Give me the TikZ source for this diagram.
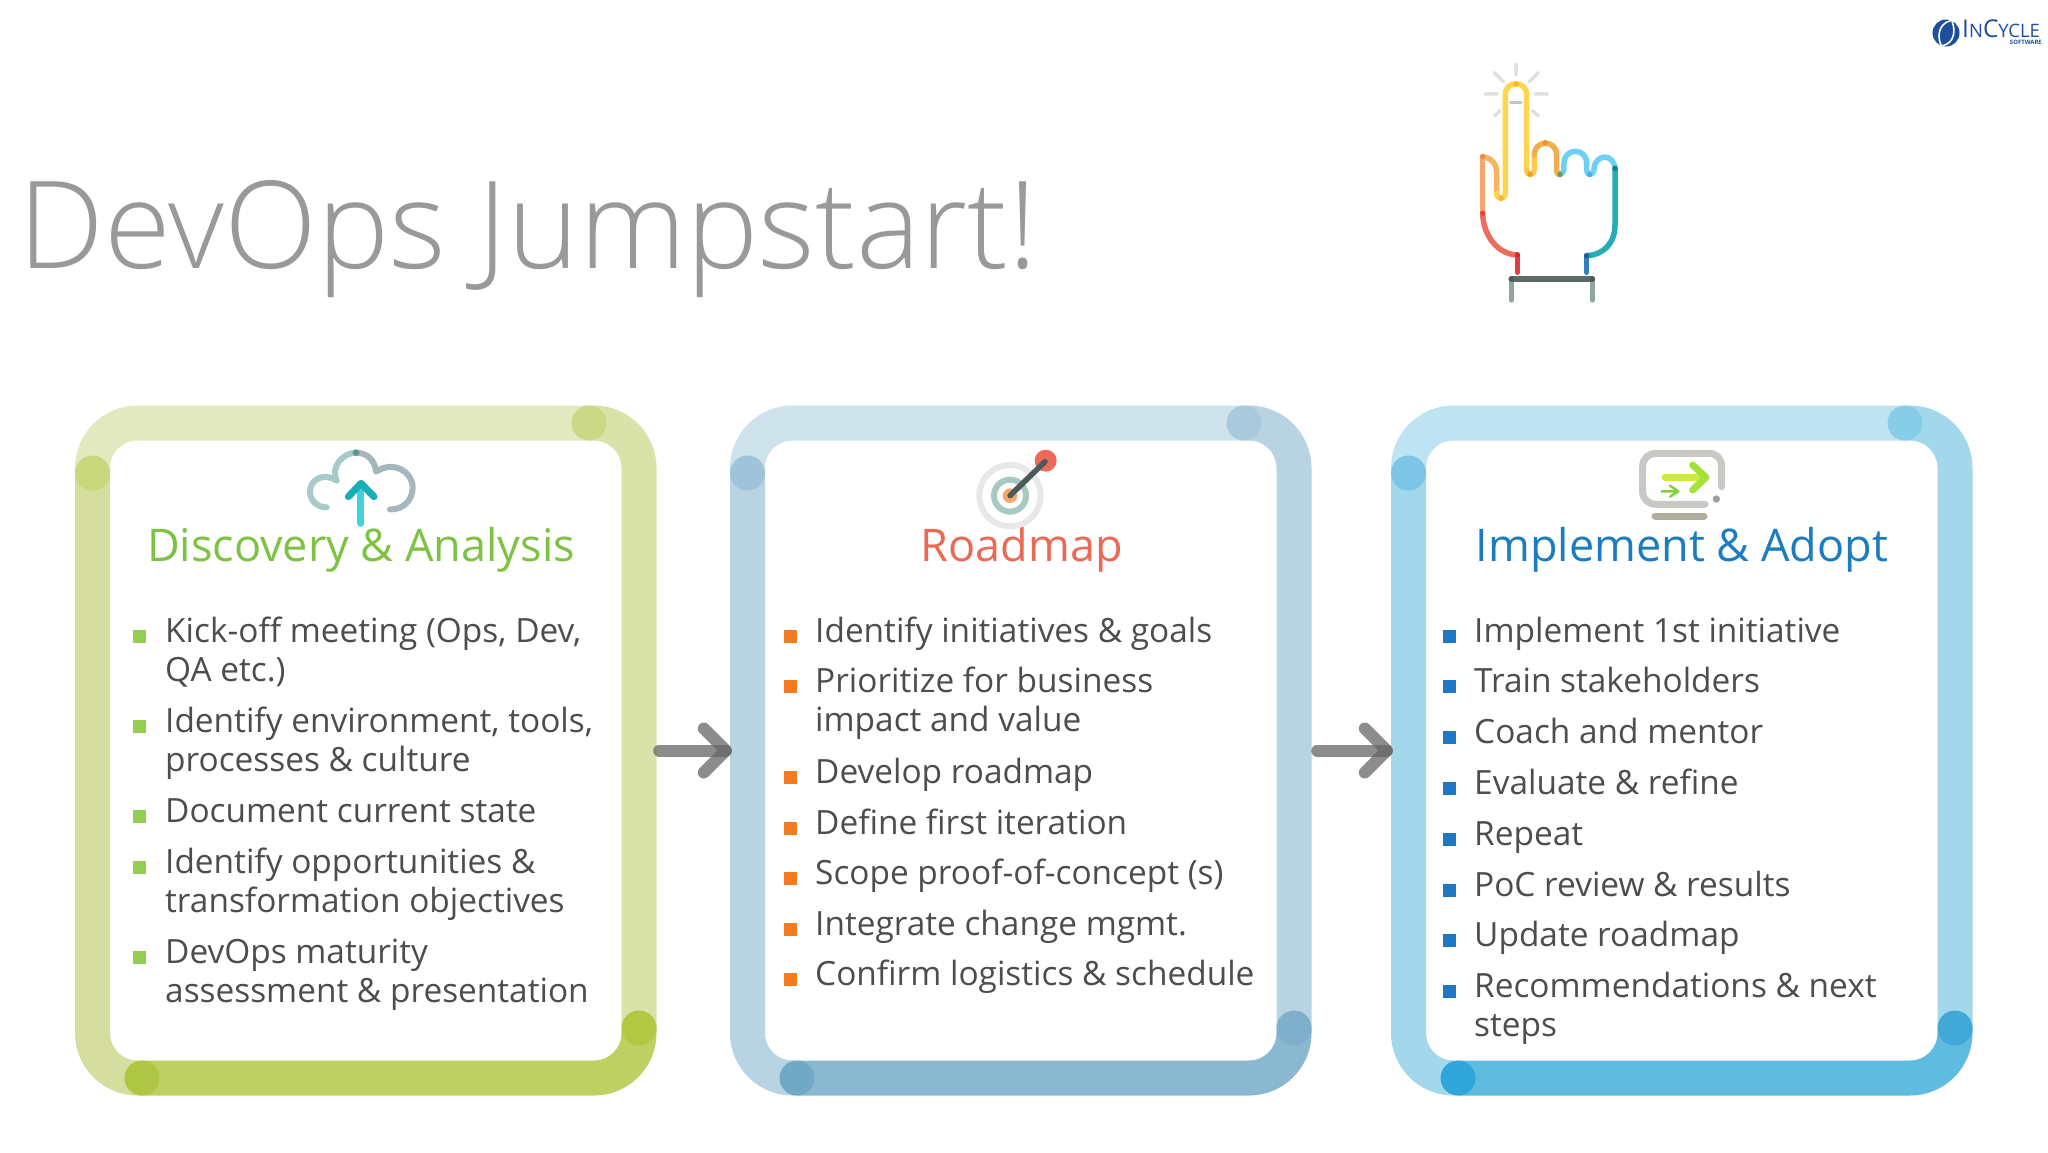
\documentclass[tikz,border=0pt]{standalone}
\usepackage{fontspec}
\setmainfont{Open Sans}
\newfontfamily\titlefont{Open Sans Light}
\newcommand{\dc}[1]{\definecolor{#1}{HTML}{#1}}
\dc{E3E9BE}\dc{D9E2A8}\dc{BFD062}\dc{D5DE9E}\dc{C9D87A}\dc{CBD884}\dc{B2C742}\dc{AFC645}
\dc{CEE2EC}\dc{B8D4E3}\dc{8AB8D0}\dc{9EC3DA}\dc{A9C9DC}\dc{7FB0CB}\dc{70A9C6}
\dc{BEE3F2}\dc{A3D8EC}\dc{5FBBE0}\dc{7CC5E6}\dc{88CDE8}\dc{42A8D8}\dc{2FA5DA}
\dc{7DC242}\dc{EB6A55}\dc{1B7DC0}\dc{92CF50}\dc{F47B20}\dc{1F78C1}
\dc{E0E0E0}\dc{C4C4C4}\dc{F9A66C}\dc{F3B562}\dc{FFD54F}\dc{FDC84A}\dc{F0AE4E}\dc{6CD0F5}\dc{25ADB5}\dc{2F7FC1}\dc{EC6D5B}\dc{DB4045}\dc{8FA7A0}\dc{5B6B68}
\dc{F08A3C}\dc{E2492F}\dc{F9B233}\dc{FBB91E}\dc{F49D1A}\dc{F0921C}\dc{6E9A44}\dc{3FB2EE}\dc{12808A}\dc{D32F2F}\dc{1F5F9E}\dc{4A5A58}
\dc{A6CBC9}\dc{A5B7BC}\dc{5E9793}\dc{3FD3E0}\dc{17AEBA}
\dc{E8E8E8}\dc{A8C8C2}\dc{EE6A58}\dc{4A5A5A}
\dc{C8C8C4}\dc{9E9E9E}\dc{B0AD9F}\dc{CDEB3C}\dc{A8E03A}\dc{80D040}\dc{1D4F9C}\dc{4D4D4F}\dc{999999}\dc{666666}
\tikzset{
 seg/.style={line width=35pt,line cap=butt,line join=round},
 dotm/.style={circle,inner sep=0pt,minimum size=35pt},
 icon/.style={line cap=round,line join=round},
 panel/.style={rectangle,inner sep=0pt,minimum width=581pt,minimum height=691pt},
 head/.style={anchor=base,inner sep=0pt,font=\fontsize{45}{50}\selectfont},
 item/.style={anchor=base west,inner sep=0pt,text=4D4D4F,font=\fontsize{33.4}{39}\selectfont},
 bul/.style={rectangle,inner sep=0pt,minimum size=13pt},
 link/.style={draw=666666,opacity=.75,line width=12pt,line cap=round,line join=round},
}
\newcommand{\tl}[1]{\begin{tabular}[t]{@{}l@{}}#1\end{tabular}}
\newcommand{\panelring}[6]{%
 \def\xl{#1}\def\xr{#2}%
 \pgfmathsetmacro\xa{\xl+50}\pgfmathsetmacro\xb{\xr-50}%
 \draw[seg,#5] (\xr,1028) -- (\xr,1033) arc (0:90:45) -- (\xa,1078);
 \draw[seg,#6] (\xa,1078) -- (\xl+45,1078) arc (90:180:45) -- (\xl,473);
 \draw[seg,#3] (\xl,473) -- (\xl,468) arc (180:270:45) -- (\xb,423);
 \draw[seg,#4] (\xb,423) -- (\xr-45,423) arc (270:360:45) -- (\xr,1028);
}
\begin{document}
\begin{tikzpicture}[x=1pt,y=-1pt]
\useasboundingbox (0,0) rectangle (2048,1152);
\fill[white] (0,0) rectangle (2048,1152);

% panels
\node[panel] (p1) at (365.5,750.5) {};
\node[panel] (p2) at (1020.5,750.5) {};
\node[panel] (p3) at (1681.5,750.5) {};

% ring 1
\panelring{92.5}{639}{E3E9BE}{D9E2A8}{BFD062}{D5DE9E}
\node[dotm,fill=C9D87A] (d1a) at (92.5,473) {};
\node[dotm,fill=CBD884] (d1b) at (589,423) {};
\node[dotm,fill=B2C742] (d1c) at (639,1028) {};
\node[dotm,fill=AFC645] (d1d) at (142,1078) {};
% ring 2
\panelring{747.5}{1294}{CEE2EC}{B8D4E3}{8AB8D0}{B8D4E3}
\node[dotm,fill=9EC3DA] (d2a) at (747.5,473) {};
\node[dotm,fill=A9C9DC] (d2b) at (1244,423) {};
\node[dotm,fill=7FB0CB] (d2c) at (1294,1028) {};
\node[dotm,fill=70A9C6] (d2d) at (797,1078) {};
% ring 3
\panelring{1408.5}{1955}{BEE3F2}{A3D8EC}{5FBBE0}{A3D8EC}
\node[dotm,fill=7CC5E6] (d3a) at (1408.5,473) {};
\node[dotm,fill=88CDE8] (d3b) at (1905,423) {};
\node[dotm,fill=42A8D8] (d3c) at (1955,1028) {};
\node[dotm,fill=2FA5DA] (d3d) at (1458,1078) {};

% arrows between panels
\draw[link,shorten <=3pt,shorten >=4pt] (p1.east) -- (p2.west);
\draw[link] (p2.west) ++(-26,-22) -- ++(22,22) -- ++(-22,22);
\draw[link,shorten <=6pt,shorten >=4pt] (p2.east) -- (p3.west);
\draw[link] (p3.west) ++(-26,-22) -- ++(22,22) -- ++(-22,22);

% title
\node[anchor=base west,inner sep=0pt,text=999999] (title) at (18.5,268) {\titlefont\fontsize{121.5}{130}\selectfont DevOps Jumpstart!};

% headings
\node[head,text=7DC242] (h1) at (361,561) {Discovery \& Analysis};
\node[head,text=EB6A55] (h2) at (1022,561) {Roadmap};
\node[head,text=1B7DC0] (h3) at (1682,561) {Implement \& Adopt};

% column 1
\foreach \n/\y/\t in {1/642/{Kick-off meeting (Ops, Dev,\\QA etc.)},2/732/{Identify environment, tools,\\processes \& culture},3/822/{Document current state},4/873/{Identify opportunities \&\\transformation objectives},5/963/{DevOps maturity\\assessment \& presentation}}{
 \node[bul,fill=92CF50] (ba\n) at (139.5,\y-6) {};
 \node[item] (ta\n) at (165,\y) {\tl{\t}};
}
% column 2
\foreach \n/\y/\t in {1/642/{Identify initiatives \& goals},2/692.5/{Prioritize for business\\impact and value},3/783/{Develop roadmap},4/834/{Define first iteration},5/884/{Scope proof-of-concept (s)},6/935/{Integrate change mgmt.},7/985.5/{Confirm logistics \& schedule}}{
 \node[bul,fill=F47B20] (bb\n) at (790,\y-6) {};
 \node[item] (tb\n) at (815,\y) {\tl{\t}};
}
% column 3
\foreach \n/\y/\t in {1/642/{Implement 1st initiative},2/692.8/{Train stakeholders},3/743.6/{Coach and mentor},4/794.4/{Evaluate \& refine},5/845/{Repeat},6/896/{PoC review \& results},7/946.8/{Update roadmap},8/997.6/{Recommendations \& next\\steps}}{
 \node[bul,fill=1F78C1] (bc\n) at (1449.5,\y-6) {};
 \node[item] (tc\n) at (1474,\y) {\tl{\t}};
}

% hand icon
\begin{scope}[shift={(1440,40)},x=.3333pt,y=-.3333pt,icon,line width=5.5pt]
 \draw[E0E0E0,line width=3.5pt] (228,72)--(228,105) (163,98)--(190,125) (295,98)--(268,125) (136,162)--(172,162) (285,162)--(322,162) (180,212)--(163,228) (277,212)--(295,228);
 \draw[C4C4C4,line width=3.5pt] (212,188)--(243,188);
 \draw[F9A66C] (128,520)--(128,350);
 \draw[F3B562] (128,350) .. controls (155,355) and (170,370) .. (170,400) -- (170,460);
 \draw[FFD54F] (170,460) .. controls (170,480) and (196,480) .. (196,460) -- (196,165) .. controls (196,120) and (260,120) .. (260,165) -- (260,390);
 \draw[FDC84A] (260,390) .. controls (260,408) and (283,408) .. (283,390) -- (283,345);
 \draw[F0AE4E] (283,345) .. controls (283,298) and (350,298) .. (350,345) -- (350,390) .. controls (350,405) and (360,405) .. (360,403);
 \draw[6CD0F5] (360,403) .. controls (372,400) and (372,390) .. (372,370) .. controls (372,322) and (440,322) .. (440,370) -- (440,390) .. controls (440,408) and (458,408) .. (462,390) -- (462,385) .. controls (468,340) and (520,340) .. (525,385);
 \draw[25ADB5] (525,385) -- (525,555) .. controls (525,610) and (490,645) .. (440,647);
 \draw[2F7FC1] (440,647) -- (440,697);
 \draw[EC6D5B] (128,520) .. controls (130,590) and (175,643) .. (232,645);
 \draw[DB4045] (232,645) -- (232,697);
 \draw[8FA7A0] (214,717) -- (214,780) (457,717) -- (457,780);
 \draw[5B6B68] (214,717) -- (457,717);
 \foreach \x/\y/\c in {128/350/F08A3C,128/520/E2492F,183/475/F9B233,228/132/FBB91E,270/403/F49D1A,316/308/F0921C,360/403/6E9A44,449/403/3FB2EE,525/385/12808A,232/645/D32F2F,440/647/1F5F9E,214/717/4A5A58,457/717/4A5A58}
  \fill[\c] (\x,\y) circle (8);
\end{scope}

% cloud icon
\begin{scope}[shift={(280,430)},x=.3333pt,y=-.3333pt,icon,line width=6pt]
 \draw[A6CBC9] (140,232) .. controls (110,232) and (90,210) .. (90,185) .. controls (90,150) and (130,125) .. (170,152) .. controls (150,110) and (190,68) .. (228,68);
 \draw[A5B7BC] (228,68) .. controls (260,68) and (285,90) .. (288,125) .. controls (340,90) and (398,125) .. (398,172) .. controls (398,215) and (365,240) .. (330,238);
 \fill[5E9793] (228,68) circle (10);
 \draw[3FD3E0,line width=7pt] (243,280) -- (243,170);
 \draw[17AEBA,line width=7pt] (205,200) -- (243,160) -- (282,200);
\end{scope}

% target icon
\begin{scope}[shift={(950,430)},x=.3333pt,y=-.3333pt,icon]
 \draw[E8E8E8,line width=6pt] (180,197) circle (92);
 \draw[A8C8C2,line width=6pt] (180,197) circle (48);
 \fill[F9A66C] (180,197) circle (22);
 \fill[EE6A58] (287,92) circle (33);
 \draw[4A5A5A,line width=5.5pt] (180,197) -- (285,95);
\end{scope}

% screen icon
\begin{scope}[shift={(1620,430)},x=.3333pt,y=-.3333pt,icon]
 \draw[C8C8C4,line width=7pt] (305,170) -- (305,110) .. controls (305,85) and (290,70) .. (265,70) -- (110,70) .. controls (85,70) and (68,85) .. (68,110) -- (68,185) .. controls (68,208) and (85,223) .. (110,223) -- (255,223);
 \fill[9E9E9E] (289,207) circle (11);
 \draw[B0AD9F,line width=7pt] (105,258) -- (252,258);
 \draw[CDEB3C,line width=7pt] (135,142) -- (250,142);
 \draw[A8E03A,line width=7pt] (218,105) -- (258,142) -- (218,180);
 \draw[80D040,line width=2.5pt] (125,184) -- (175,184) (150,167) -- (175,184) -- (150,200);
\end{scope}

% logo
\begin{scope}[icon]
 \fill[1D4F9C] (1946,33) circle (13.5);
 \draw[white,line width=1.6pt,line cap=butt] (1956,20) .. controls (1940,20) and (1936,34) .. (1941,45);
 \draw[white,line width=1.6pt,line cap=butt] (1939,46) .. controls (1952,46) and (1957,34) .. (1952,21);
\end{scope}
\node[anchor=base west,inner sep=0pt,text=1D4F9C] (logo) at (1962,37) {\fontsize{24.5}{26}\selectfont I\fontsize{18.5}{26}\selectfont N\fontsize{24.5}{26}\selectfont C\fontsize{18.5}{26}\selectfont YCLE};
\node[anchor=base east,inner sep=0pt,text=1D4F9C] (logosub) at (2042,44) {\fontsize{6}{7}\selectfont\bfseries SOFTWARE};
\end{tikzpicture}
\end{document}
